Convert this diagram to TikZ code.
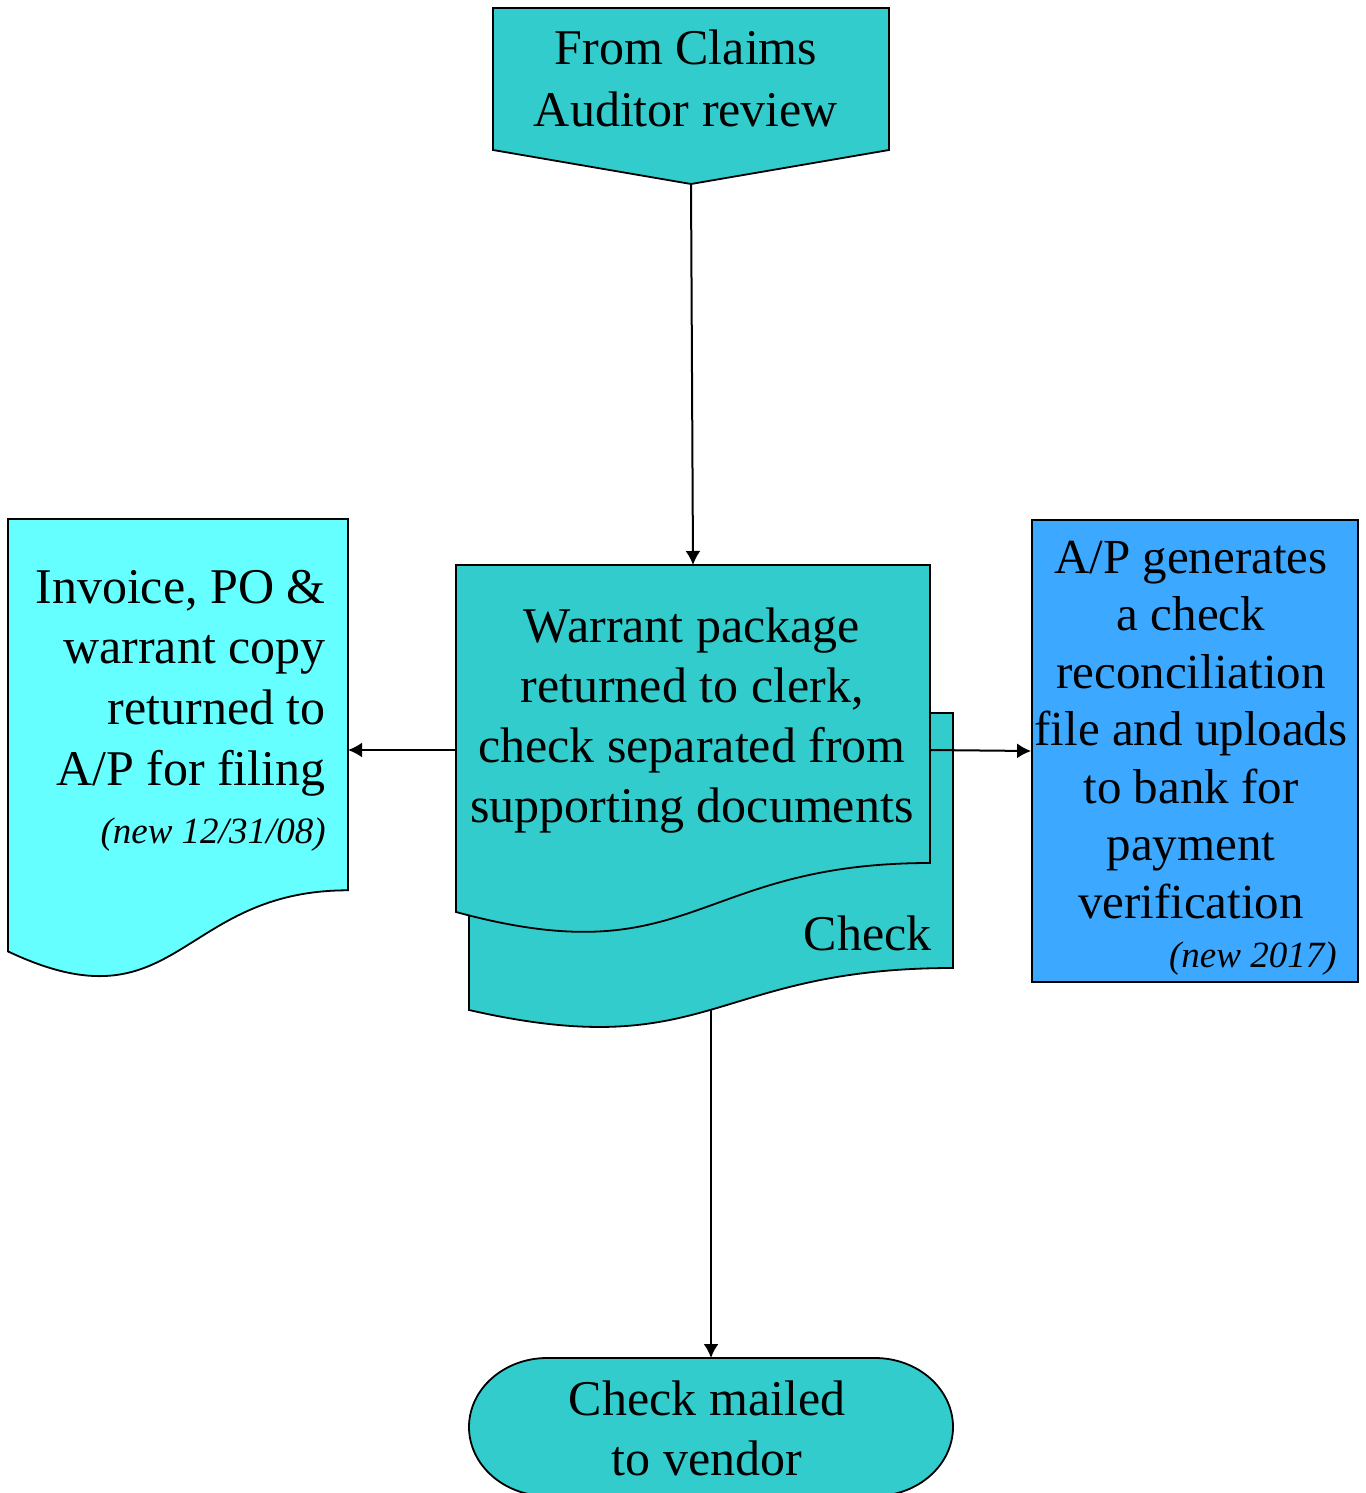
\documentclass[tikz,border=0pt]{standalone}
\usepackage{fontspec}
\setmainfont{Liberation Serif}
\usetikzlibrary{arrows.meta}
\definecolor{tealA}{HTML}{33CCCC}
\definecolor{cyanA}{HTML}{66FFFF}
\definecolor{blueA}{HTML}{3CA8FF}
\tikzset{
  shp/.style={draw=black, line width=0.9pt, line join=miter},
  conn/.style={draw=black, line width=1pt, -{Latex[length=7pt,width=7.5pt]}},
  txt/.style={inner sep=0pt, font=\fontsize{25}{#1}\selectfont},
  note/.style={inner sep=0pt, font=\fontsize{18.5}{22}\selectfont\itshape}
}
\begin{document}
\begin{tikzpicture}[x=0.5pt,y=-0.5pt]
\useasboundingbox (0,0) rectangle (1365,1493);
% invoice document
\path[shp, fill=cyanA] (8,519) -- (348,519) -- (348,890.3)
  .. controls (178,890.3) and (178,1031.8) .. (8,951.4) -- cycle;
% back document (Check)
\path[shp, fill=tealA] (469,713) -- (953,713) -- (953,968)
  .. controls (711,968) and (711,1065.2) .. (469,1010) -- cycle;
% front document (Warrant package)
\path[shp, fill=tealA] (456,565) -- (930,565) -- (930,863)
  .. controls (693,863) and (693,976.5) .. (456,912) -- cycle;
% top off-page connector
\path[shp, fill=tealA] (493,8) -- (889,8) -- (889,150) -- (691,184) -- (493,150) -- cycle;
% blue box
\node[shp, fill=blueA, minimum width=163pt, minimum height=231pt, inner sep=0pt] (ap) at (1195,751) {};
% terminal
\path[shp, fill=tealA] (547,1358) -- (875,1358)
  .. controls (918,1358) and (953,1389) .. (953,1427)
  .. controls (953,1465) and (918,1496) .. (875,1496)
  -- (547,1496)
  .. controls (504,1496) and (469,1465) .. (469,1427)
  .. controls (469,1389) and (504,1358) .. (547,1358) -- cycle;

% connector coordinates
\coordinate (topTip) at (691,184);
\coordinate (wTop) at (693,565);
\coordinate (wLeft) at (456,750);
\coordinate (wRight) at (930,750);
\coordinate (invRight) at (348,750);
\coordinate (bBot) at (711,1010);
\coordinate (termTop) at (711,1358);

% texts
\node[txt=31, anchor=base] (topT) at (686,65)
  {\begin{tabular}[t]{@{}c@{}}From Claims\\Auditor review\end{tabular}};
\node[txt=30, anchor=base] (warT) at (692,642)
  {\begin{tabular}[t]{@{}c@{}}Warrant package\\returned to clerk,\\check separated from\\supporting documents\end{tabular}};
\node[txt=30.4, anchor=base east] (invT) at (326,603)
  {\begin{tabular}[t]{@{}r@{}}Invoice, PO \&\\warrant copy\\returned to\\A/P for filing\end{tabular}};
\node[note, anchor=base east] (invN) at (326,843) {(new 12/31/08)};
\node[txt=28.75, anchor=base, font=\fontsize{24.5}{28.75}\selectfont] (apT) at (1191,573)
  {\begin{tabular}[t]{@{}c@{}}A/P generates\\a check\\reconciliation\\file and uploads\\to bank for\\payment\\verification\end{tabular}};
\node[note, anchor=base east] (apN) at (1337,967) {(new 2017)};
\node[txt=30, anchor=base east] (chkT) at (932,950) {Check};
\node[txt=30, anchor=base] (termT) at (707,1415)
  {\begin{tabular}[t]{@{}c@{}}Check mailed\\to vendor\end{tabular}};

% connectors
\draw[conn] (topTip) -- (wTop);
\draw[conn] (wLeft) -- (invRight);
\draw[conn] (wRight) -- (ap.west);
\draw[conn] (bBot) -- (termTop);
\end{tikzpicture}
\end{document}
